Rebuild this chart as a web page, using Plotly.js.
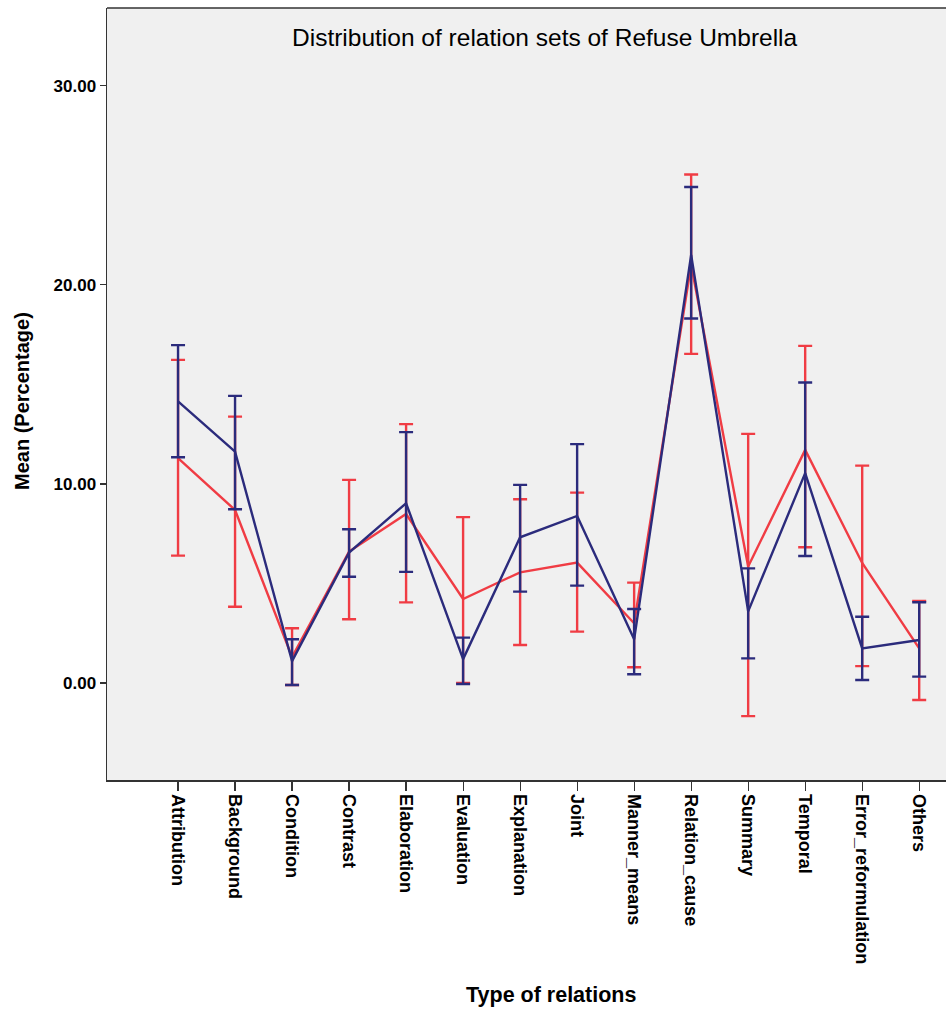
<!DOCTYPE html>
<html>
<head>
<meta charset="utf-8">
<script src="https://cdn.plot.ly/plotly-3.0.1.min.js"></script>
<style>html,body{margin:0;padding:0;background:#fff;}#chart{width:946px;height:1010px;}</style>
</head>
<body>
<div id="chart"></div>
<script>
const categories = ["Attribution","Background","Condition","Contrast","Elaboration","Evaluation","Explanation","Joint","Manner_means","Relation_cause","Summary","Temporal","Error_reformulation","Others"];

const redMean  = [11.29, 8.69, 1.30, 6.60, 8.49, 4.22, 5.56, 6.05, 3.00, 21.00, 5.85, 11.71, 6.03, 1.74];
const redUpper = [16.23, 13.38, 2.75, 10.20, 13.00, 8.33, 9.23, 9.56, 5.04, 25.54, 12.51, 16.93, 10.92, 4.12];
const redLower = [6.40, 3.83, -0.10, 3.20, 4.05, 0.00, 1.91, 2.58, 0.79, 16.53, -1.66, 6.82, 0.85, -0.85];

const blueMean  = [14.14, 11.62, 1.10, 6.55, 9.03, 1.20, 7.32, 8.39, 2.20, 21.50, 3.60, 10.54, 1.74, 2.16];
const blueUpper = [16.97, 14.42, 2.20, 7.72, 12.60, 2.28, 9.95, 12.00, 3.72, 24.91, 5.76, 15.09, 3.33, 4.06];
const blueLower = [11.34, 8.73, -0.10, 5.34, 5.58, -0.05, 4.59, 4.89, 0.44, 18.31, 1.24, 6.38, 0.15, 0.32];

const yTicks = [0, 10, 20, 30];

const RED = "#f03c44";
const BLUE = "#2b2b7c";

function series(mean, upper, lower, color) {
  return {
    type: "scatter",
    mode: "lines",
    x: categories,
    y: mean,
    line: {color: color, width: 2.4},
    error_y: {
      type: "data",
      symmetric: false,
      array: upper.map((u, i) => u - mean[i]),
      arrayminus: lower.map((l, i) => mean[i] - l),
      color: color,
      thickness: 2.4,
      width: 7
    },
    showlegend: false,
    hoverinfo: "x+y"
  };
}

const data = [
  series(redMean, redUpper, redLower, RED),
  series(blueMean, blueUpper, blueLower, BLUE)
];

const FONT = "Liberation Sans, Arial, sans-serif";

const layout = {
  width: 946,
  height: 1010,
  margin: {l: 107, r: 0, t: 8, b: 230},
  paper_bgcolor: "#ffffff",
  plot_bgcolor: "#f0f0f0",
  font: {family: FONT, color: "#000"},
  xaxis: {
    type: "category",
    range: [-1.246, 13.47],
    showgrid: false,
    zeroline: false,
    showline: true,
    linecolor: "#333",
    linewidth: 1.5,
    ticks: "outside",
    ticklen: 9,
    tickwidth: 1.2,
    tickcolor: "#333",
    tickangle: 90,
    tickfont: {family: FONT, size: 18, color: "#000", weight: "bold"},
    automargin: false
  },
  yaxis: {
    range: [-4.87, 33.9],
    tickvals: yTicks,
    tickformat: ".2f",
    showgrid: false,
    zeroline: false,
    showline: true,
    linecolor: "#333",
    linewidth: 1.5,
    ticks: "outside",
    ticklen: 6,
    tickwidth: 1.2,
    tickcolor: "#333",
    tickfont: {family: FONT, size: 17, color: "#000", weight: "bold"},
    automargin: false
  },
  shapes: [
    {type: "line", xref: "paper", yref: "paper", x0: 0, x1: 1, y0: 1, y1: 1, line: {color: "#333", width: 1.5}}
  ],
  annotations: [
    {text: "Distribution of relation sets of Refuse Umbrella", xref: "paper", yref: "paper", x: 0.522, y: 0.962,
     xanchor: "center", yanchor: "middle", showarrow: false,
     font: {family: FONT, size: 24.5, color: "#000"}},
    {text: "Type of relations", xref: "paper", yref: "paper", x: (551 - 107) / 839, y: -(995 - 780) / 772,
     xanchor: "center", yanchor: "middle", showarrow: false,
     font: {family: FONT, size: 21.5, color: "#000", weight: "bold"}},
    {text: "Mean (Percentage)", xref: "paper", yref: "paper", x: (22 - 107) / 839, y: (780 - 401) / 772,
     xanchor: "center", yanchor: "middle", showarrow: false, textangle: -90,
     font: {family: FONT, size: 20, color: "#000", weight: "bold"}}
  ]
};

Plotly.newPlot("chart", data, layout, {displayModeBar: false, staticPlot: true});
</script>
</body>
</html>
